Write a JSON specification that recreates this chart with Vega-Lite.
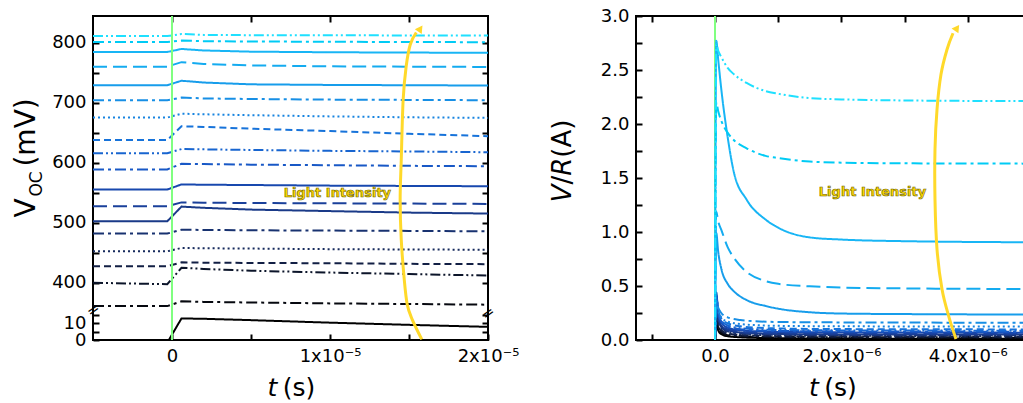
{
  "$schema": "https://vega.github.io/schema/vega-lite/v6.json",
  "background": "white",
  "padding": {"left": 12, "top": 6, "right": 0, "bottom": 0},
  "config": {
    "font": "DejaVu Sans",
    "view": {"stroke": "black", "strokeWidth": 2},
    "axis": {"domain": false, "grid": false, "tickColor": "black", "tickWidth": 2, "tickSize": -6, "labelFont": "DejaVu Sans", "labelFontSize": 18, "labelColor": "black", "labelPadding": 13, "labelFlush": false, "labelOverlap": false}
  },
  "datasets": {
    "L": [
      {"s":1,"t":-5e-6,"v":811.5},{"s":1,"t":-3e-7,"v":811.5},{"s":1,"t":6e-7,"v":815},{"s":1,"t":2e-6,"v":813.5},{"s":1,"t":5e-6,"v":813},{"s":1,"t":1e-5,"v":812.8},{"s":1,"t":1.5e-5,"v":812.6},{"s":1,"t":2e-5,"v":812.5},
      {"s":2,"t":-5e-6,"v":801.5},{"s":2,"t":-3e-7,"v":801.5},{"s":2,"t":6e-7,"v":804},{"s":2,"t":2e-6,"v":803},{"s":2,"t":5e-6,"v":802.5},{"s":2,"t":1e-5,"v":802},{"s":2,"t":1.5e-5,"v":801.6},{"s":2,"t":2e-5,"v":801.3},
      {"s":3,"t":-5e-6,"v":785},{"s":3,"t":-3e-7,"v":785},{"s":3,"t":6e-7,"v":790},{"s":3,"t":2e-6,"v":787.5},{"s":3,"t":5e-6,"v":785.5},{"s":3,"t":1e-5,"v":784.5},{"s":3,"t":1.5e-5,"v":784},{"s":3,"t":2e-5,"v":783.6},
      {"s":4,"t":-5e-6,"v":760.5},{"s":4,"t":-3e-7,"v":760.5},{"s":4,"t":6e-7,"v":768},{"s":4,"t":2e-6,"v":765},{"s":4,"t":5e-6,"v":762.5},{"s":4,"t":1e-5,"v":761},{"s":4,"t":1.5e-5,"v":760.5},{"s":4,"t":2e-5,"v":760},
      {"s":5,"t":-5e-6,"v":729.5},{"s":5,"t":-3e-7,"v":729.5},{"s":5,"t":6e-7,"v":737},{"s":5,"t":2e-6,"v":734},{"s":5,"t":5e-6,"v":731},{"s":5,"t":1e-5,"v":730},{"s":5,"t":1.5e-5,"v":729.5},{"s":5,"t":2e-5,"v":729},
      {"s":6,"t":-5e-6,"v":704.5},{"s":6,"t":-3e-7,"v":704.5},{"s":6,"t":6e-7,"v":709},{"s":6,"t":2e-6,"v":707.5},{"s":6,"t":5e-6,"v":706.5},{"s":6,"t":1e-5,"v":705.5},{"s":6,"t":1.5e-5,"v":705},{"s":6,"t":2e-5,"v":704.5},
      {"s":7,"t":-5e-6,"v":675.5},{"s":7,"t":-3e-7,"v":675.5},{"s":7,"t":6e-7,"v":682},{"s":7,"t":2e-6,"v":681},{"s":7,"t":5e-6,"v":679.5},{"s":7,"t":1e-5,"v":677.5},{"s":7,"t":1.5e-5,"v":676},{"s":7,"t":2e-5,"v":675},
      {"s":8,"t":-5e-6,"v":638},{"s":8,"t":-3e-7,"v":638},{"s":8,"t":6e-7,"v":661},{"s":8,"t":2e-6,"v":660},{"s":8,"t":5e-6,"v":657},{"s":8,"t":1e-5,"v":653},{"s":8,"t":1.5e-5,"v":648.5},{"s":8,"t":2e-5,"v":644.5},
      {"s":9,"t":-5e-6,"v":616},{"s":9,"t":-3e-7,"v":616},{"s":9,"t":6e-7,"v":623},{"s":9,"t":2e-6,"v":622.5},{"s":9,"t":5e-6,"v":621.5},{"s":9,"t":1e-5,"v":620},{"s":9,"t":1.5e-5,"v":619},{"s":9,"t":2e-5,"v":617.7},
      {"s":10,"t":-5e-6,"v":589},{"s":10,"t":-3e-7,"v":589},{"s":10,"t":6e-7,"v":598.5},{"s":10,"t":2e-6,"v":598},{"s":10,"t":5e-6,"v":597},{"s":10,"t":1e-5,"v":596},{"s":10,"t":1.5e-5,"v":595},{"s":10,"t":2e-5,"v":594.4},
      {"s":11,"t":-5e-6,"v":555.5},{"s":11,"t":-3e-7,"v":555.5},{"s":11,"t":6e-7,"v":564},{"s":11,"t":2e-6,"v":563.5},{"s":11,"t":5e-6,"v":563},{"s":11,"t":1e-5,"v":562},{"s":11,"t":1.5e-5,"v":561.5},{"s":11,"t":2e-5,"v":561},
      {"s":12,"t":-5e-6,"v":527.5},{"s":12,"t":-3e-7,"v":527.5},{"s":12,"t":6e-7,"v":534},{"s":12,"t":2e-6,"v":533.5},{"s":12,"t":5e-6,"v":533},{"s":12,"t":1e-5,"v":532.5},{"s":12,"t":1.5e-5,"v":532},{"s":12,"t":2e-5,"v":531.5},
      {"s":13,"t":-5e-6,"v":502.5},{"s":13,"t":-3e-7,"v":502.5},{"s":13,"t":6e-7,"v":527},{"s":13,"t":2e-6,"v":525},{"s":13,"t":5e-6,"v":522},{"s":13,"t":1e-5,"v":519.5},{"s":13,"t":1.5e-5,"v":517},{"s":13,"t":2e-5,"v":515.4},
      {"s":14,"t":-5e-6,"v":482},{"s":14,"t":-3e-7,"v":482},{"s":14,"t":6e-7,"v":488.5},{"s":14,"t":2e-6,"v":488},{"s":14,"t":5e-6,"v":487.5},{"s":14,"t":1e-5,"v":487},{"s":14,"t":1.5e-5,"v":486.5},{"s":14,"t":2e-5,"v":485.8},
      {"s":15,"t":-5e-6,"v":452.4},{"s":15,"t":-3e-7,"v":452.4},{"s":15,"t":6e-7,"v":458},{"s":15,"t":2e-6,"v":457.5},{"s":15,"t":5e-6,"v":457},{"s":15,"t":1e-5,"v":456},{"s":15,"t":1.5e-5,"v":455.5},{"s":15,"t":2e-5,"v":455},
      {"s":16,"t":-5e-6,"v":427.5},{"s":16,"t":-3e-7,"v":427.5},{"s":16,"t":6e-7,"v":434},{"s":16,"t":2e-6,"v":433.5},{"s":16,"t":5e-6,"v":433},{"s":16,"t":1e-5,"v":432.5},{"s":16,"t":1.5e-5,"v":431.5},{"s":16,"t":2e-5,"v":431},
      {"s":17,"t":-5e-6,"v":400},{"s":17,"t":-3e-7,"v":397.5},{"s":17,"t":6e-7,"v":425},{"s":17,"t":2e-6,"v":423},{"s":17,"t":5e-6,"v":420},{"s":17,"t":1e-5,"v":417},{"s":17,"t":1.5e-5,"v":414.5},{"s":17,"t":2e-5,"v":412},
      {"s":18,"t":-5e-6,"v":361},{"s":18,"t":-3e-7,"v":361},{"s":18,"t":6e-7,"v":369},{"s":18,"t":2e-6,"v":368},{"s":18,"t":5e-6,"v":367},{"s":18,"t":1e-5,"v":365.5},{"s":18,"t":1.5e-5,"v":364.5},{"s":18,"t":2e-5,"v":363.4},
      {"s":19,"t":-2e-7,"v":0},{"s":19,"t":6e-7,"v":12.8},{"s":19,"t":2e-6,"v":12.6},{"s":19,"t":5e-6,"v":11.8},{"s":19,"t":1e-5,"v":10.3},{"s":19,"t":1.5e-5,"v":9},{"s":19,"t":2e-5,"v":7.8}
    ],
    "R": [
      {"s":19,"t":0,"v":0},{"s":19,"t":2e-8,"v":0.21},{"s":19,"t":5e-8,"v":0.09},{"s":19,"t":1e-7,"v":0.055},{"s":19,"t":2e-7,"v":0.035},{"s":19,"t":4e-7,"v":0.025},{"s":19,"t":7e-7,"v":0.019},{"s":19,"t":1e-6,"v":0.016},{"s":19,"t":2e-6,"v":0.013},{"s":19,"t":5e-6,"v":0.011},
      {"s":18,"t":0,"v":0},{"s":18,"t":2e-8,"v":0.24},{"s":18,"t":5e-8,"v":0.11},{"s":18,"t":1e-7,"v":0.068},{"s":18,"t":2e-7,"v":0.044},{"s":18,"t":4e-7,"v":0.032},{"s":18,"t":7e-7,"v":0.026},{"s":18,"t":1e-6,"v":0.023},{"s":18,"t":2e-6,"v":0.02},{"s":18,"t":5e-6,"v":0.018},
      {"s":17,"t":0,"v":0},{"s":17,"t":2e-8,"v":0.27},{"s":17,"t":5e-8,"v":0.13},{"s":17,"t":1e-7,"v":0.08},{"s":17,"t":2e-7,"v":0.052},{"s":17,"t":4e-7,"v":0.039},{"s":17,"t":7e-7,"v":0.032},{"s":17,"t":1e-6,"v":0.029},{"s":17,"t":2e-6,"v":0.026},{"s":17,"t":5e-6,"v":0.024},
      {"s":16,"t":0,"v":0},{"s":16,"t":2e-8,"v":0.3},{"s":16,"t":5e-8,"v":0.15},{"s":16,"t":1e-7,"v":0.092},{"s":16,"t":2e-7,"v":0.06},{"s":16,"t":4e-7,"v":0.046},{"s":16,"t":7e-7,"v":0.039},{"s":16,"t":1e-6,"v":0.035},{"s":16,"t":2e-6,"v":0.032},{"s":16,"t":5e-6,"v":0.03},
      {"s":15,"t":0,"v":0},{"s":15,"t":2e-8,"v":0.33},{"s":15,"t":5e-8,"v":0.17},{"s":15,"t":1e-7,"v":0.105},{"s":15,"t":2e-7,"v":0.07},{"s":15,"t":4e-7,"v":0.054},{"s":15,"t":7e-7,"v":0.046},{"s":15,"t":1e-6,"v":0.042},{"s":15,"t":2e-6,"v":0.039},{"s":15,"t":5e-6,"v":0.037},
      {"s":14,"t":0,"v":0},{"s":14,"t":2e-8,"v":0.37},{"s":14,"t":5e-8,"v":0.19},{"s":14,"t":1e-7,"v":0.12},{"s":14,"t":2e-7,"v":0.08},{"s":14,"t":4e-7,"v":0.062},{"s":14,"t":7e-7,"v":0.053},{"s":14,"t":1e-6,"v":0.049},{"s":14,"t":2e-6,"v":0.046},{"s":14,"t":5e-6,"v":0.044},
      {"s":13,"t":0,"v":0},{"s":13,"t":2e-8,"v":0.4},{"s":13,"t":5e-8,"v":0.21},{"s":13,"t":1e-7,"v":0.13},{"s":13,"t":2e-7,"v":0.09},{"s":13,"t":4e-7,"v":0.07},{"s":13,"t":7e-7,"v":0.06},{"s":13,"t":1e-6,"v":0.056},{"s":13,"t":2e-6,"v":0.052},{"s":13,"t":5e-6,"v":0.05},
      {"s":12,"t":0,"v":0},{"s":12,"t":2e-8,"v":0.42},{"s":12,"t":5e-8,"v":0.23},{"s":12,"t":1e-7,"v":0.145},{"s":12,"t":2e-7,"v":0.1},{"s":12,"t":4e-7,"v":0.078},{"s":12,"t":7e-7,"v":0.068},{"s":12,"t":1e-6,"v":0.064},{"s":12,"t":2e-6,"v":0.06},{"s":12,"t":5e-6,"v":0.058},
      {"s":11,"t":0,"v":0},{"s":11,"t":2e-8,"v":0.44},{"s":11,"t":5e-8,"v":0.25},{"s":11,"t":1e-7,"v":0.16},{"s":11,"t":2e-7,"v":0.115},{"s":11,"t":4e-7,"v":0.09},{"s":11,"t":7e-7,"v":0.079},{"s":11,"t":1e-6,"v":0.075},{"s":11,"t":2e-6,"v":0.071},{"s":11,"t":5e-6,"v":0.068},
      {"s":10,"t":0,"v":0},{"s":10,"t":2e-8,"v":0.42},{"s":10,"t":5e-8,"v":0.26},{"s":10,"t":1e-7,"v":0.17},{"s":10,"t":2e-7,"v":0.125},{"s":10,"t":4e-7,"v":0.1},{"s":10,"t":7e-7,"v":0.088},{"s":10,"t":1e-6,"v":0.084},{"s":10,"t":2e-6,"v":0.08},{"s":10,"t":5e-6,"v":0.077},
      {"s":9,"t":0,"v":0},{"s":9,"t":2e-8,"v":0.4},{"s":9,"t":5e-8,"v":0.27},{"s":9,"t":1e-7,"v":0.18},{"s":9,"t":2e-7,"v":0.135},{"s":9,"t":4e-7,"v":0.11},{"s":9,"t":7e-7,"v":0.098},{"s":9,"t":1e-6,"v":0.093},{"s":9,"t":2e-6,"v":0.089},{"s":9,"t":5e-6,"v":0.086},
      {"s":8,"t":0,"v":0},{"s":8,"t":2e-8,"v":0.38},{"s":8,"t":5e-8,"v":0.28},{"s":8,"t":1e-7,"v":0.2},{"s":8,"t":2e-7,"v":0.155},{"s":8,"t":4e-7,"v":0.127},{"s":8,"t":7e-7,"v":0.113},{"s":8,"t":1e-6,"v":0.107},{"s":8,"t":2e-6,"v":0.101},{"s":8,"t":5e-6,"v":0.098},
      {"s":7,"t":0,"v":0},{"s":7,"t":2e-8,"v":0.34},{"s":7,"t":5e-8,"v":0.27},{"s":7,"t":1e-7,"v":0.21},{"s":7,"t":2e-7,"v":0.17},{"s":7,"t":4e-7,"v":0.148},{"s":7,"t":7e-7,"v":0.136},{"s":7,"t":1e-6,"v":0.131},{"s":7,"t":2e-6,"v":0.127},{"s":7,"t":5e-6,"v":0.124},
      {"s":6,"t":0,"v":0},{"s":6,"t":2e-8,"v":0.36},{"s":6,"t":5e-8,"v":0.3},{"s":6,"t":1e-7,"v":0.25},{"s":6,"t":2e-7,"v":0.21},{"s":6,"t":4e-7,"v":0.185},{"s":6,"t":7e-7,"v":0.172},{"s":6,"t":1e-6,"v":0.167},{"s":6,"t":2e-6,"v":0.163},{"s":6,"t":5e-6,"v":0.16},
      {"s":5,"t":0,"v":0},{"s":5,"t":2e-8,"v":0.99},{"s":5,"t":5e-8,"v":0.82},{"s":5,"t":1e-7,"v":0.66},{"s":5,"t":2e-7,"v":0.52},{"s":5,"t":3e-7,"v":0.45},{"s":5,"t":5e-7,"v":0.37},{"s":5,"t":8e-7,"v":0.315},{"s":5,"t":1e-6,"v":0.29},{"s":5,"t":1.5e-6,"v":0.257},{"s":5,"t":2e-6,"v":0.245},{"s":5,"t":3e-6,"v":0.24},{"s":5,"t":5e-6,"v":0.236},
      {"s":4,"t":0,"v":0},{"s":4,"t":2e-8,"v":1.19},{"s":4,"t":5e-8,"v":1.1},{"s":4,"t":1e-7,"v":1.02},{"s":4,"t":2e-7,"v":0.86},{"s":4,"t":3e-7,"v":0.76},{"s":4,"t":5e-7,"v":0.63},{"s":4,"t":8e-7,"v":0.546},{"s":4,"t":1e-6,"v":0.52},{"s":4,"t":1.5e-6,"v":0.497},{"s":4,"t":2e-6,"v":0.486},{"s":4,"t":3e-6,"v":0.478},{"s":4,"t":5e-6,"v":0.472},
      {"s":3,"t":0,"v":0},{"s":3,"t":2e-8,"v":2.77},{"s":3,"t":5e-8,"v":2.6},{"s":3,"t":1e-7,"v":2.32},{"s":3,"t":2e-7,"v":1.88},{"s":3,"t":3e-7,"v":1.55},{"s":3,"t":5e-7,"v":1.3},{"s":3,"t":8e-7,"v":1.115},{"s":3,"t":1e-6,"v":1.04},{"s":3,"t":1.5e-6,"v":0.95},{"s":3,"t":2e-6,"v":0.93},{"s":3,"t":3e-6,"v":0.915},{"s":3,"t":5e-6,"v":0.905},
      {"s":2,"t":0,"v":0},{"s":2,"t":2e-8,"v":2.2},{"s":2,"t":5e-8,"v":2.12},{"s":2,"t":1e-7,"v":2.03},{"s":2,"t":2e-7,"v":1.92},{"s":2,"t":3e-7,"v":1.85},{"s":2,"t":5e-7,"v":1.775},{"s":2,"t":8e-7,"v":1.705},{"s":2,"t":1e-6,"v":1.685},{"s":2,"t":1.5e-6,"v":1.652},{"s":2,"t":2e-6,"v":1.642},{"s":2,"t":3e-6,"v":1.636},{"s":2,"t":5e-6,"v":1.633},
      {"s":1,"t":0,"v":0},{"s":1,"t":2e-8,"v":2.74},{"s":1,"t":5e-8,"v":2.68},{"s":1,"t":1e-7,"v":2.62},{"s":1,"t":2e-7,"v":2.52},{"s":1,"t":3e-7,"v":2.46},{"s":1,"t":5e-7,"v":2.38},{"s":1,"t":8e-7,"v":2.305},{"s":1,"t":1e-6,"v":2.28},{"s":1,"t":1.5e-6,"v":2.24},{"s":1,"t":2e-6,"v":2.228},{"s":1,"t":3e-6,"v":2.218},{"s":1,"t":5e-6,"v":2.212}
    ],
    "AL": [
      {"o":1,"t":1.581e-5,"v":0.4},{"o":2,"t":1.52e-5,"v":12.3},{"o":3,"t":1.489e-5,"v":363.4},{"o":4,"t":1.47e-5,"v":405.2},{"o":5,"t":1.451e-5,"v":471.9},{"o":6,"t":1.444e-5,"v":538.7},{"o":7,"t":1.451e-5,"v":605.5},{"o":8,"t":1.463e-5,"v":705.7},{"o":9,"t":1.482e-5,"v":760.8},{"o":10,"t":1.508e-5,"v":797.5},{"o":11,"t":1.546e-5,"v":817.5}
    ],
    "AR": [
      {"o":1,"t":3.813e-6,"v":0.01},{"o":2,"t":3.703e-6,"v":0.21},{"o":3,"t":3.592e-6,"v":0.469},{"o":4,"t":3.513e-6,"v":0.84},{"o":5,"t":3.481e-6,"v":1.3},{"o":6,"t":3.481e-6,"v":1.766},{"o":7,"t":3.513e-6,"v":2.136},{"o":8,"t":3.576e-6,"v":2.46},{"o":9,"t":3.671e-6,"v":2.69},{"o":10,"t":3.766e-6,"v":2.84}
    ]
  },
  "spacing": 148,
  "bounds": "flush",
  "hconcat": [
    {
      "width": 395,
      "height": 324,
      "resolve": {"axis": {"x": "independent", "y": "independent"}},
      "layer": [
        {
          "data": {"name": "L"},
          "mark": {"type": "line", "strokeWidth": 2},
          "encoding": {
            "x": {"field": "t", "type": "quantitative", "scale": {"domain": [-5e-6, 2e-5], "nice": false, "zero": false},
                  "axis": {"orient": "bottom", "title": null, "values": [0, 5e-6, 1e-5, 1.5e-5, 2e-5],
                           "labelExpr": "abs(datum.value) < 0.000000001 ? '0' : abs(datum.value - 0.00001) < 0.000000001 ? '1x10⁻⁵' : abs(datum.value - 0.00002) < 0.000000001 ? '2x10⁻⁵' : ''"}},
            "y": {"field": "v", "type": "quantitative", "scale": {"domain": [0, 18, 355, 845], "range": [324, 293.7, 293.7, 0], "nice": false, "zero": false},
                  "axis": {"orient": "left", "title": null, "values": [0, 5, 10, 15, 400, 450, 500, 550, 600, 650, 700, 750, 800],
                           "labelExpr": "(datum.value == 0 || datum.value == 10 || (datum.value >= 400 && datum.value % 100 == 0)) ? datum.label : ''"}},
            "color": {"field": "s", "type": "nominal", "legend": null,
                      "scale": {"domain": [1,2,3,4,5,6,7,8,9,10,11,12,13,14,15,16,17,18,19],
                                "range": ["#1FE0FF","#00CBF5","#18B5F5","#14ABF0","#179DEB","#178FE5","#1784E0","#1773DA","#1865D0","#1858C6","#1848AE","#1A409A","#1A3A88","#183270","#162A5C","#121F44","#0C152A","#06080F","#000000"]}},
            "strokeDash": {"field": "s", "type": "nominal", "legend": null,
                      "scale": {"domain": [1,2,3,4,5,6,7,8,9,10,11,12,13,14,15,16,17,18,19],
                                "range": [[10,3,2,3,2,3],[11,4,3,4],[1,0],[14,6],[1,0],[11,4,3,4],[2,3],[7,4],[10,3,2,3,2,3],[11,4,3,4],[1,0],[14,6],[1,0],[11,4,3,4],[2,3],[7,4],[10,3,2,3,2,3],[11,4,3,4],[1,0]]}}
          }
        },
        {
          "data": {"values": [{}]},
          "mark": {"type": "rule", "color": "#80FF80", "strokeWidth": 2},
          "encoding": {
            "x": {"datum": 0, "type": "quantitative", "axis": {"orient": "top", "title": null, "labels": false, "values": [0, 5e-6, 1e-5, 1.5e-5]}}
          }
        },
        {
          "data": {"name": "AL"},
          "mark": {"type": "line", "color": "#FFD92A", "strokeWidth": 3, "interpolate": "cardinal"},
          "encoding": {
            "x": {"field": "t", "type": "quantitative", "axis": null},
            "y": {"field": "v", "type": "quantitative", "axis": {"orient": "right", "title": null, "labels": false, "values": [5, 10, 15, 400, 450, 500, 550, 600, 650, 700, 750, 800]}},
            "order": {"field": "o"}
          }
        },
        {
          "data": {"values": [{}]},
          "mark": {"type": "point", "shape": "triangle-up", "filled": true, "size": 70, "angle": 35, "color": "#FFD92A", "opacity": 1},
          "encoding": {"x": {"datum": 1.572e-5, "type": "quantitative", "axis": null}, "y": {"datum": 824, "type": "quantitative", "axis": null}}
        },
        {
          "data": {"values": [{}]},
          "mark": {"type": "text", "text": "Light Intensity", "fontSize": 13, "fontWeight": "bold", "fill": "#FFD800", "stroke": "#6E6400", "strokeWidth": 0.6, "align": "center", "baseline": "middle"},
          "encoding": {"x": {"datum": 1.047e-5, "type": "quantitative", "axis": null}, "y": {"datum": 550.4, "type": "quantitative", "axis": null}}
        },
        {
          "data": {"values": [{}]},
          "mark": {"type": "text", "text": "=", "fontSize": 15, "angle": 325, "align": "center", "baseline": "middle", "color": "black"},
          "encoding": {"x": {"datum": -5e-6, "type": "quantitative", "axis": null}, "y": {"datum": 100, "type": "quantitative", "axis": null}}
        },
        {
          "data": {"values": [{}]},
          "mark": {"type": "text", "text": "=", "fontSize": 15, "angle": 325, "align": "center", "baseline": "middle", "color": "black"},
          "encoding": {"x": {"datum": 2e-5, "type": "quantitative", "axis": null}, "y": {"datum": 16, "type": "quantitative", "axis": null}}
        },
        {
          "data": {"values": [{}]},
          "mark": {"type": "text", "text": "V", "fontSize": 28, "angle": 270, "align": "left", "baseline": "alphabetic", "color": "black"},
          "encoding": {"x": {"datum": -8.662e-6, "type": "quantitative", "axis": null}, "y": {"datum": 508.7, "type": "quantitative", "axis": null}}
        },
        {
          "data": {"values": [{}]},
          "mark": {"type": "text", "text": "OC", "fontSize": 17, "angle": 270, "align": "left", "baseline": "alphabetic", "color": "black"},
          "encoding": {"x": {"datum": -8.22e-6, "type": "quantitative", "axis": null}, "y": {"datum": 543.7, "type": "quantitative", "axis": null}}
        },
        {
          "data": {"values": [{}]},
          "mark": {"type": "text", "text": "(mV)", "fontSize": 28, "angle": 270, "align": "left", "baseline": "alphabetic", "color": "black"},
          "encoding": {"x": {"datum": -8.662e-6, "type": "quantitative", "axis": null}, "y": {"datum": 593.8, "type": "quantitative", "axis": null}}
        },
        {
          "data": {"values": [{}]},
          "mark": {"type": "text", "text": "t", "fontSize": 25, "fontStyle": "italic", "align": "left", "baseline": "alphabetic", "color": "black"},
          "encoding": {"x": {"datum": 6.048e-6, "type": "quantitative", "axis": null}, "y": {"datum": -33.3, "type": "quantitative", "axis": null}}
        },
        {
          "data": {"values": [{}]},
          "mark": {"type": "text", "text": "(s)", "fontSize": 25, "align": "left", "baseline": "alphabetic", "color": "black"},
          "encoding": {"x": {"datum": 7.014e-6, "type": "quantitative", "axis": null}, "y": {"datum": -33.3, "type": "quantitative", "axis": null}}
        }
      ]
    },
    {
      "width": 395,
      "height": 324,
      "resolve": {"axis": {"x": "independent", "y": "independent"}},
      "layer": [
        {
          "data": {"values": [{}]},
          "mark": {"type": "rule", "color": "#80FF80", "strokeWidth": 2},
          "encoding": {
            "x": {"datum": 0, "type": "quantitative", "scale": {"domain": [-1.25e-6, 5e-6], "nice": false, "zero": false},
                  "axis": {"orient": "top", "title": null, "labels": false, "values": [-1e-6, 0, 1e-6, 2e-6, 3e-6, 4e-6, 5e-6]}}
          }
        },
        {
          "data": {"name": "R"},
          "mark": {"type": "line", "strokeWidth": 2, "interpolate": "monotone"},
          "encoding": {
            "x": {"field": "t", "type": "quantitative", "scale": {"domain": [-1.25e-6, 5e-6], "nice": false, "zero": false},
                  "axis": {"orient": "bottom", "title": null, "values": [-1e-6, 0, 1e-6, 2e-6, 3e-6, 4e-6, 5e-6],
                           "labelExpr": "abs(datum.value) < 0.0000000001 ? '0.0' : abs(datum.value - 0.000002) < 0.0000000001 ? '2.0x10⁻⁶' : abs(datum.value - 0.000004) < 0.0000000001 ? '4.0x10⁻⁶' : ''"}},
            "y": {"field": "v", "type": "quantitative", "scale": {"domain": [0, 3], "nice": false, "zero": false},
                  "axis": {"orient": "left", "title": null, "values": [0, 0.25, 0.5, 0.75, 1, 1.25, 1.5, 1.75, 2, 2.25, 2.5, 2.75, 3],
                           "labelExpr": "(datum.value * 2) % 1 == 0 ? format(datum.value, '.1f') : ''"}},
            "color": {"field": "s", "type": "nominal", "legend": null,
                      "scale": {"domain": [1,2,3,4,5,6,7,8,9,10,11,12,13,14,15,16,17,18,19],
                                "range": ["#1FE0FF","#00CBF5","#18B5F5","#14ABF0","#179DEB","#178FE5","#1784E0","#1773DA","#1865D0","#1858C6","#1848AE","#1A409A","#1A3A88","#183270","#162A5C","#121F44","#0C152A","#06080F","#000000"]}},
            "strokeDash": {"field": "s", "type": "nominal", "legend": null,
                      "scale": {"domain": [1,2,3,4,5,6,7,8,9,10,11,12,13,14,15,16,17,18,19],
                                "range": [[10,3,2,3,2,3],[11,4,3,4],[1,0],[14,6],[1,0],[11,4,3,4],[2,3],[7,4],[10,3,2,3,2,3],[11,4,3,4],[1,0],[14,6],[1,0],[11,4,3,4],[2,3],[7,4],[10,3,2,3,2,3],[11,4,3,4],[1,0]]}}
          }
        },
        {
          "data": {"name": "AR"},
          "mark": {"type": "line", "color": "#FFD92A", "strokeWidth": 3, "interpolate": "cardinal"},
          "encoding": {
            "x": {"field": "t", "type": "quantitative", "axis": null},
            "y": {"field": "v", "type": "quantitative", "axis": {"orient": "right", "title": null, "labels": false, "values": [0.25, 0.5, 0.75, 1, 1.25, 1.5, 1.75, 2, 2.25, 2.5, 2.75]}},
            "order": {"field": "o"}
          }
        },
        {
          "data": {"values": [{}]},
          "mark": {"type": "point", "shape": "triangle-up", "filled": true, "size": 70, "angle": 35, "color": "#FFD92A", "opacity": 1},
          "encoding": {"x": {"datum": 3.83e-6, "type": "quantitative", "axis": null}, "y": {"datum": 2.89, "type": "quantitative", "axis": null}}
        },
        {
          "data": {"values": [{}]},
          "mark": {"type": "text", "text": "Light Intensity", "fontSize": 13, "fontWeight": "bold", "fill": "#FFD800", "stroke": "#6E6400", "strokeWidth": 0.6, "align": "center", "baseline": "middle"},
          "encoding": {"x": {"datum": 2.492e-6, "type": "quantitative", "axis": null}, "y": {"datum": 1.368, "type": "quantitative", "axis": null}}
        },
        {
          "data": {"values": [{}]},
          "mark": {"type": "text", "text": "V", "fontSize": 26, "fontStyle": "italic", "angle": 270, "align": "left", "baseline": "alphabetic", "color": "black"},
          "encoding": {"x": {"datum": -2.286e-6, "type": "quantitative", "axis": null}, "y": {"datum": 1.275, "type": "quantitative", "axis": null}}
        },
        {
          "data": {"values": [{}]},
          "mark": {"type": "text", "text": "/", "fontSize": 26, "angle": 270, "align": "left", "baseline": "alphabetic", "color": "black"},
          "encoding": {"x": {"datum": -2.286e-6, "type": "quantitative", "axis": null}, "y": {"datum": 1.44, "type": "quantitative", "axis": null}}
        },
        {
          "data": {"values": [{}]},
          "mark": {"type": "text", "text": "R", "fontSize": 26, "fontStyle": "italic", "angle": 270, "align": "left", "baseline": "alphabetic", "color": "black"},
          "encoding": {"x": {"datum": -2.286e-6, "type": "quantitative", "axis": null}, "y": {"datum": 1.521, "type": "quantitative", "axis": null}}
        },
        {
          "data": {"values": [{}]},
          "mark": {"type": "text", "text": "(A)", "fontSize": 26, "angle": 270, "align": "left", "baseline": "alphabetic", "color": "black"},
          "encoding": {"x": {"datum": -2.286e-6, "type": "quantitative", "axis": null}, "y": {"datum": 1.688, "type": "quantitative", "axis": null}}
        },
        {
          "data": {"values": [{}]},
          "mark": {"type": "text", "text": "t", "fontSize": 25, "fontStyle": "italic", "align": "left", "baseline": "alphabetic", "color": "black"},
          "encoding": {"x": {"datum": 1.487e-6, "type": "quantitative", "axis": null}, "y": {"datum": -0.5185, "type": "quantitative", "axis": null}}
        },
        {
          "data": {"values": [{}]},
          "mark": {"type": "text", "text": "(s)", "fontSize": 25, "align": "left", "baseline": "alphabetic", "color": "black"},
          "encoding": {"x": {"datum": 1.729e-6, "type": "quantitative", "axis": null}, "y": {"datum": -0.5185, "type": "quantitative", "axis": null}}
        }
      ]
    }
  ]
}
